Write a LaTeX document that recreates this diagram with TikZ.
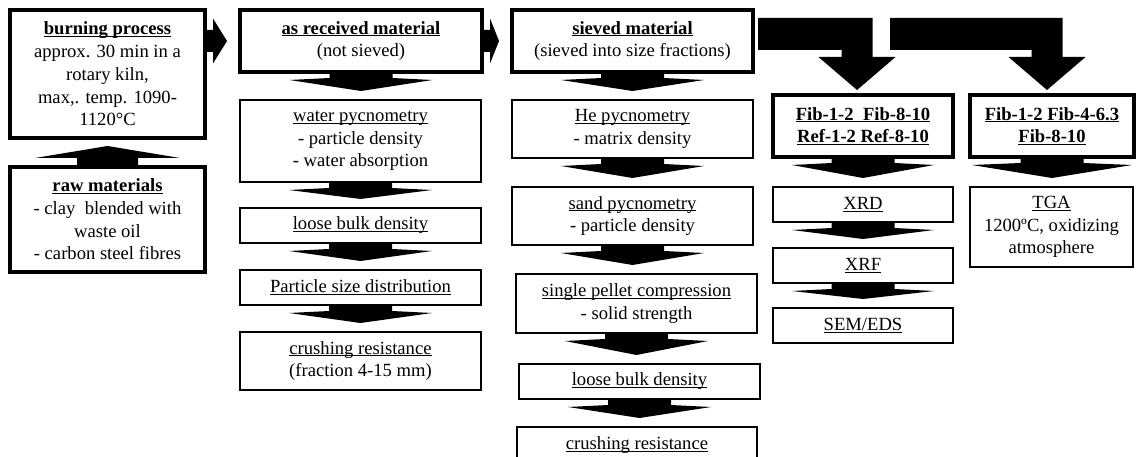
\documentclass[tikz,border=0pt]{standalone}
\usepackage{fontspec}
\setmainfont{Liberation Serif}
\usepackage{tikz}
\usetikzlibrary{calc}

\newcommand{\undl}[1]{\underline{\smash{#1}}\vphantom{#1}}

\newcommand{\blkdown}[3][71.5]{%
    \fill let \p1=(#2.south), \p2=(#3.north) in
        (\x1-31.5pt,\y1) -- (\x1+31.5pt,\y1) -- (\x1+31.5pt,\y1-6pt) -- (\x1+#1pt,\y1-8pt)
        -- (\x1,\y2+9pt) -- (\x1-#1pt,\y1-8pt) -- (\x1-31.5pt,\y1-6pt) -- cycle;}
\newcommand{\blkup}[2]{%
    \fill let \p1=(#1.north), \p2=(#2.south) in
        (\x1-30.5pt,\y1) -- (\x1+30.5pt,\y1) -- (\x1+30.5pt,\y1+9pt) -- (\x1+72.5pt,\y1+9pt)
        -- (\x1,\y2-8pt) -- (\x1-72.5pt,\y1+9pt) -- (\x1-30.5pt,\y1+9pt) -- cycle;}
\newcommand{\blkright}[2]{%
    \fill let \p1=(#1.east), \p2=(#2.west) in
        (\x1,\y2+11pt) -- (\x1+8pt,\y2+11pt) -- (\x1+8pt,\y2+22.5pt) -- (\x2-13pt,\y2)
        -- (\x1+8pt,\y2-22.5pt) -- (\x1+8pt,\y2-11pt) -- (\x1,\y2-11pt) -- cycle;}
\newcommand{\blkbend}[3]{%
    \fill let \p1=(#1), \p2=($(#2.north)+(#3,0)$) in
        (\x1,\y1+16pt) -- (\x2+15.5pt,\y1+16pt) -- (\x2+15.5pt,\y2+38pt) -- (\x2+38.5pt,\y2+38pt)
        -- (\x2,\y2+5pt) -- (\x2-38.5pt,\y2+38pt) -- (\x2-15.5pt,\y2+38pt)
        -- (\x2-15.5pt,\y1-16pt) -- (\x1,\y1-16pt) -- cycle;}

\begin{document}
\begin{tikzpicture}[x=1pt,y=-1pt,
        box/.style={draw,line width=2pt,align=center,inner sep=2pt,outer sep=0pt,
            font=\fontsize{18.6}{22.7}\selectfont},
        thickbox/.style={box,line width=3.6pt},
        size/.style n args={2}{minimum width=#1pt,minimum height=#2pt}]

    \useasboundingbox (0,0) rectangle (1136,457);
    \clip (0,0) rectangle (1136,457);

    \node[thickbox,size={195}{128}] (burn) at (107.5,74)
        {\textbf{\undl{burning process}}\\approx. 30 min in a\\rotary kiln,\\max,. temp. 1090-\\1120°C};
    \node[thickbox,size={195}{105}] (raw) at (107.5,219.5)
        {\textbf{\undl{raw materials}}\\- clay\ \ blended with\\waste oil\\- carbon steel fibres};

    \node[thickbox,size={242}{62}] (recv) at (361,41)
        {\textbf{\undl{as received material}}\\(not sieved)};
    \node[box,size={241}{82}] (water) at (360.5,141)
        {\undl{water pycnometry}\\- particle density\\- water absorption};
    \node[box,size={241}{35}] (loose1) at (360.5,225.5) {\undl{loose bulk density}};
    \node[box,size={241}{35}] (psd) at (360.5,287.5) {\undl{Particle size distribution}};
    \node[box,size={241}{58}] (crush1) at (360.5,361)
        {\undl{crushing resistance}\\(fraction 4-15 mm)};

    \node[thickbox,size={241}{62}] (sieved) at (632.5,41)
        {\textbf{\undl{sieved material}}\\(sieved into size fractions)};
    \node[box,size={241}{58}] (he) at (632.5,129) {\undl{He pycnometry}\\- matrix density};
    \node[box,size={241}{58}] (sand) at (632.5,216) {\undl{sand pycnometry}\\- particle density};
    \node[box,size={241}{59}] (pellet) at (636.5,303.5)
        {\undl{single pellet compression}\\- solid strength};
    \node[box,size={241}{35}] (loose2) at (639.5,381.5) {\undl{loose bulk density}};
    \node[box,size={240}{37}] (crush2) at (637,445.5) {\undl{crushing resistance}};

    \node[thickbox,size={180}{62}] (fib1) at (863,126)
        {\textbf{\undl{Fib-1-2\ \ Fib-8-10}}\\\textbf{\undl{Ref-1-2 Ref-8-10}}};
    \node[box,size={180}{35}] (xrd) at (863,204.5) {\undl{XRD}};
    \node[box,size={180}{35}] (xrf) at (863,265.5) {\undl{XRF}};
    \node[box,size={180}{35}] (sem) at (863,325.5) {\undl{SEM/EDS}};

    \node[thickbox,size={164}{62}] (fib2) at (1052,126)
        {\textbf{\undl{Fib-1-2 Fib-4-6.3}}\\\textbf{\undl{Fib-8-10}}};
    \node[box,size={163}{80}] (tga) at (1051.5,227)
        {\undl{TGA}\\1200ºC, oxidizing\\atmosphere};

    \coordinate (splitA) at ($(sieved.north east)+(5,24)$);
    \coordinate (splitB) at (890,34);

    \blkup{raw}{burn}
    \blkright{burn}{recv}
    \blkright{recv}{sieved}
    \blkdown{recv}{water}
    \blkdown{water}{loose1}
    \blkdown{loose1}{psd}
    \blkdown{psd}{crush1}
    \blkdown{sieved}{he}
    \blkdown{he}{sand}
    \blkdown{sand}{pellet}
    \blkdown{pellet}{loose2}
    \blkdown{loose2}{crush2}
    \blkdown[71]{fib1}{xrd}
    \blkdown[71]{xrd}{xrf}
    \blkdown[71]{xrf}{sem}
    \blkdown[80]{fib2}{tga}
    \blkbend{splitA}{fib1}{-6}
    \blkbend{splitB}{fib2}{-5}

\end{tikzpicture}
\end{document}
